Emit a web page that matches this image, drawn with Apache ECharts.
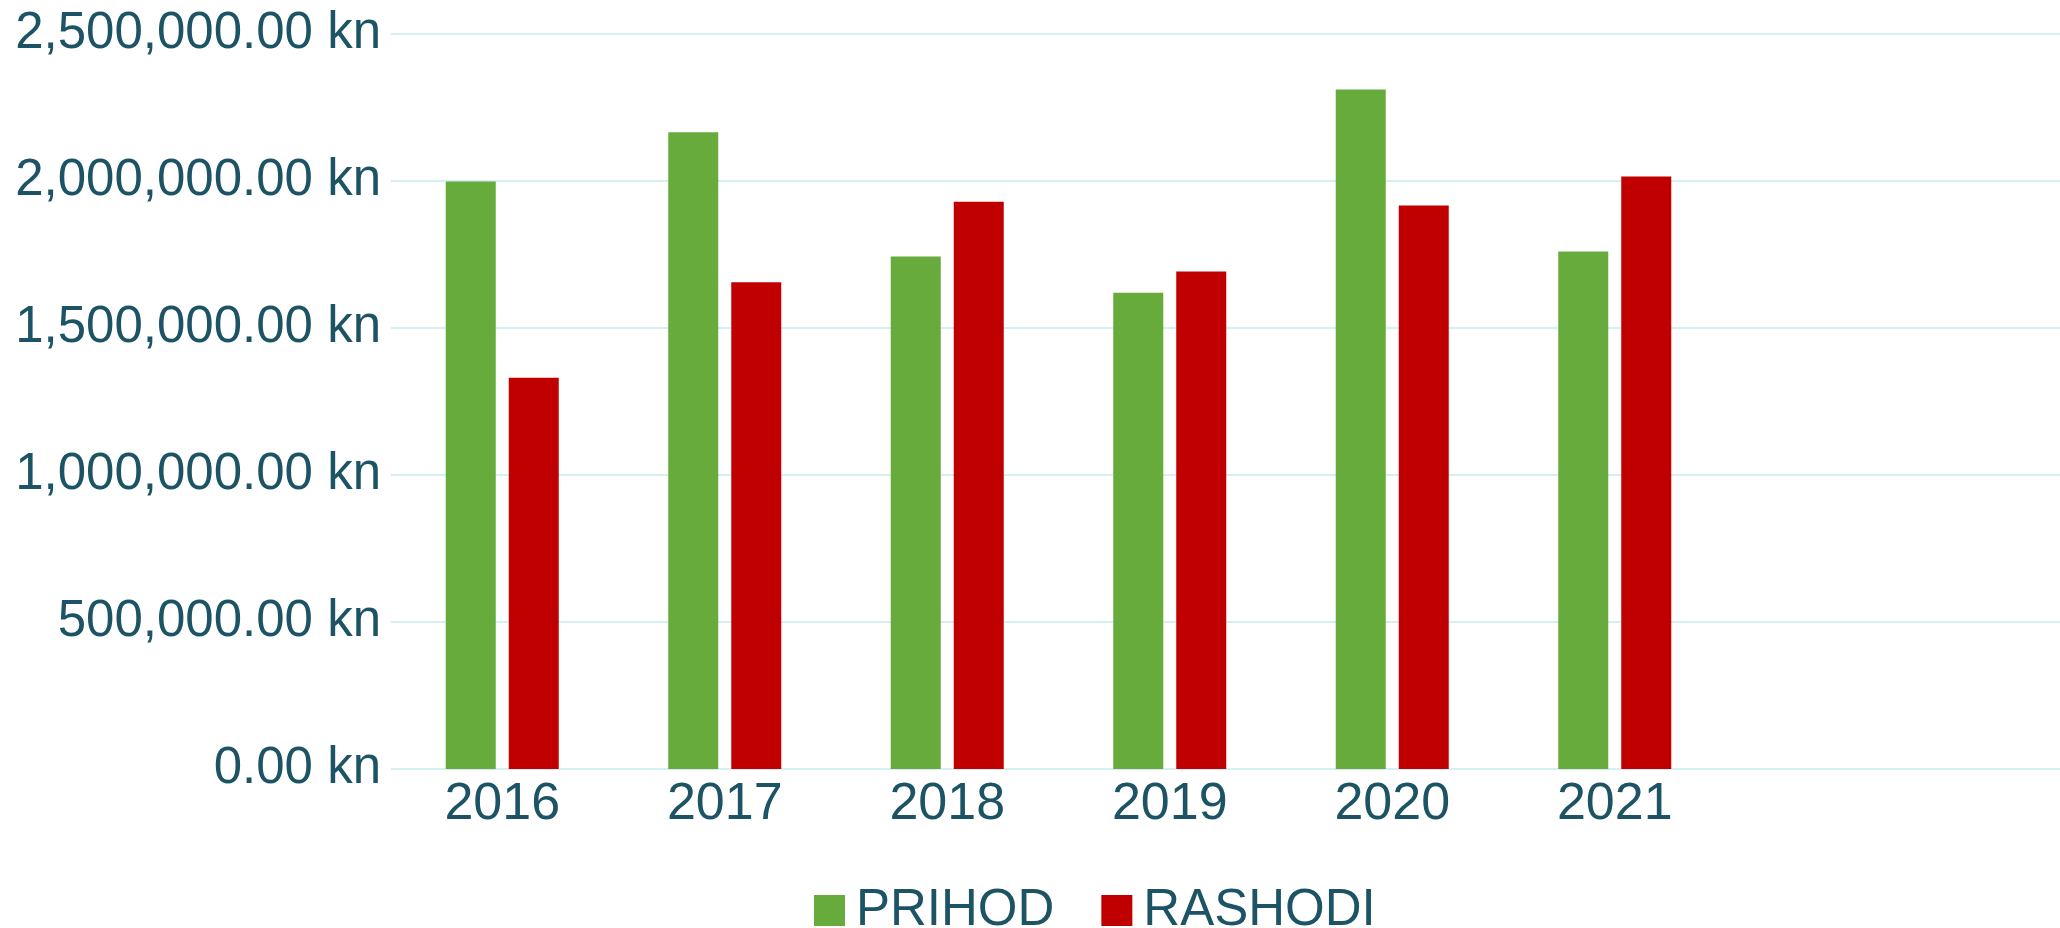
<!DOCTYPE html>
<html lang="en">
<head>
  <meta charset="UTF-8">
  <script src="https://cdn.jsdelivr.net/npm/echarts@6/dist/echarts.min.js"></script>
  <title>Prihod / Rashodi</title>
</head>
<body style="margin:0; overflow:hidden">
  <!-- the plot area runs past the right edge, as in the original -->
  <div id="chart" style="width: 2172px; height: 928px"></div>
  <script>
    const years = ['2016', '2017', '2018', '2019', '2020', '2021']
    const prihod = [1998000, 2166000, 1743000, 1620000, 2311000, 1760000]
    const rashodi = [1331000, 1656000, 1929000, 1692000, 1917000, 2015000]

    const textColor = '#1d5465'
    const font = 'Liberation Sans, Arial, sans-serif'

    const chart = echarts.init(document.getElementById('chart'))
    chart.setOption({
      animation: false,
      legend: {
        left: 809,
        top: 880,
        itemWidth: 31,
        itemHeight: 31,
        itemGap: 47,
        icon: 'rect',
        textStyle: {
          color: textColor,
          fontSize: 51,
          fontFamily: font,
          padding: [0, 0, 0, 6]
        }
      },
      grid: {
        left: 391,
        top: 34,
        width: 1780,
        height: 735
      },
      xAxis: {
        type: 'category',
        data: years,
        max: 7,
        axisLine: { show: false },
        axisTick: { show: false },
        axisLabel: {
          color: textColor,
          fontSize: 52,
          fontFamily: font,
          margin: 10
        }
      },
      yAxis: {
        type: 'value',
        min: 0,
        max: 2500000,
        interval: 500000,
        axisLabel: {
          color: textColor,
          fontSize: 51,
          fontFamily: font,
          margin: 10,
          formatter: (v) => v.toLocaleString('en-US', { minimumFractionDigits: 2, maximumFractionDigits: 2 }) + ' kn'
        },
        splitLine: {
          lineStyle: { color: '#d6eff5', width: 2 }
        }
      },
      series: [
        {
          name: 'PRIHOD',
          type: 'bar',
          data: prihod,
          barWidth: 50,
          barGap: '26%',
          itemStyle: { color: '#66ab3c' }
        },
        {
          name: 'RASHODI',
          type: 'bar',
          data: rashodi,
          barWidth: 50,
          barGap: '26%',
          itemStyle: { color: '#c00000' }
        }
      ]
    })
  </script>
</body>
</html>
